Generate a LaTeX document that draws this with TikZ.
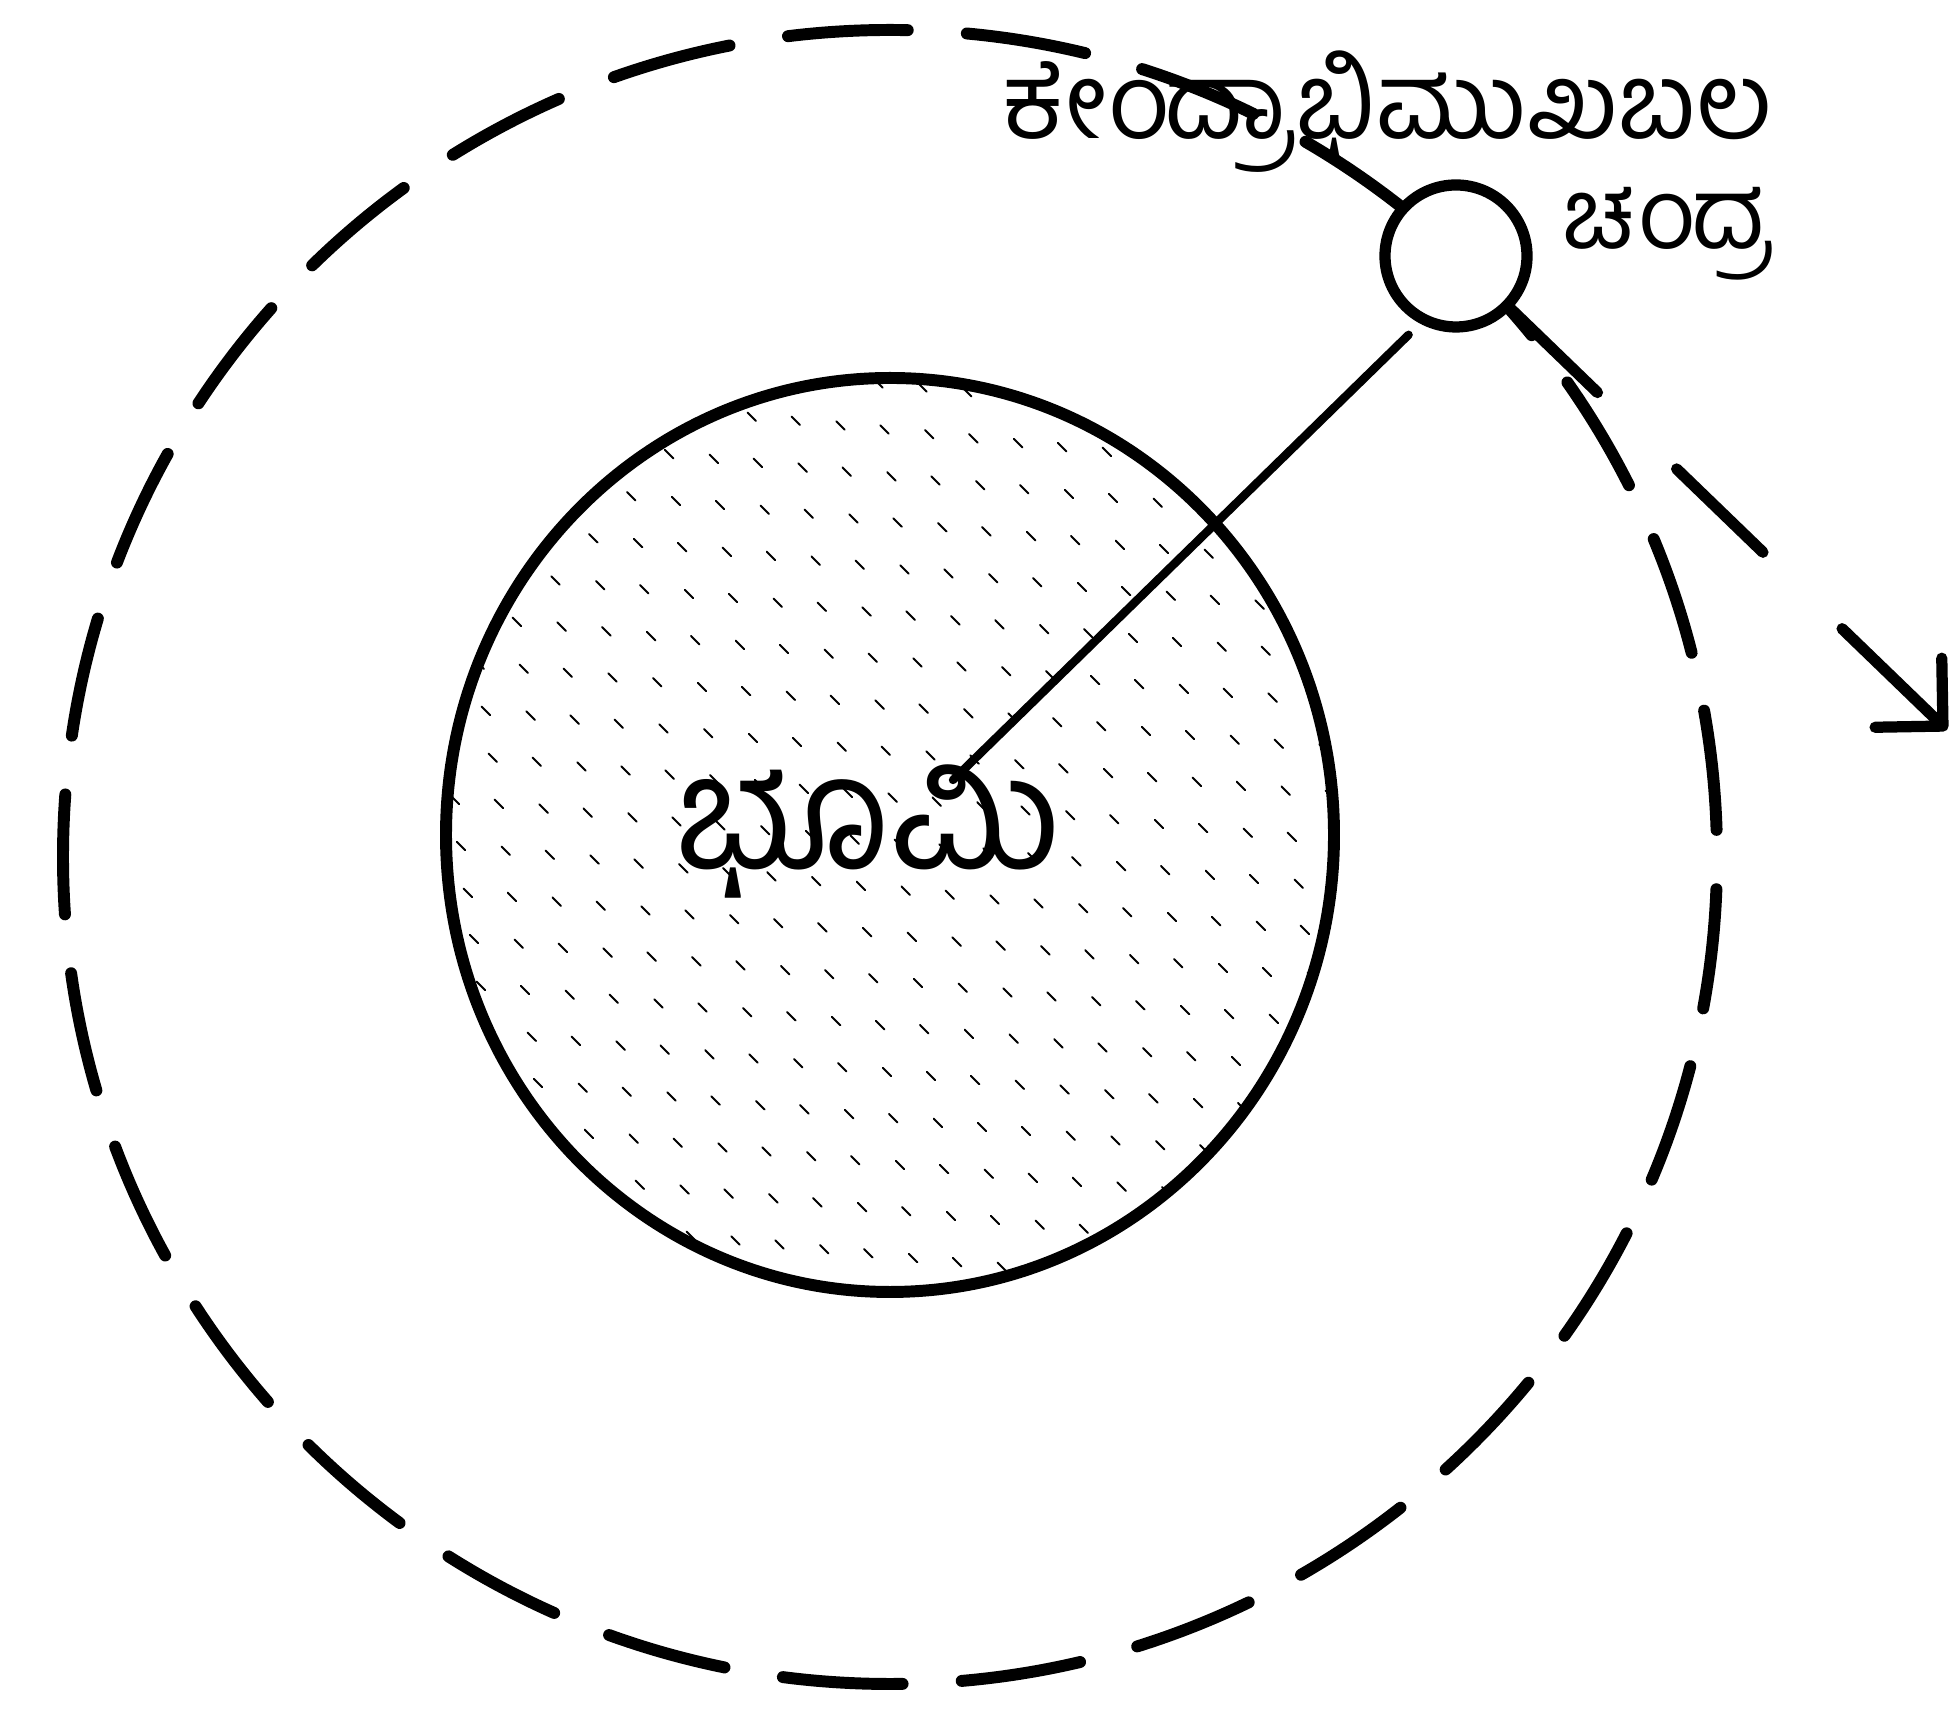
\documentclass[tikz,border=0pt]{standalone}
\usepackage{fontspec}
\newfontfamily\kannada[Script=Kannada]{Hind Mysuru}
\usepackage{tikz}
\usetikzlibrary{calc, arrows.meta, shapes.geometric}

\begin{document}
\begin{tikzpicture}[line cap=round, font=\kannada,
    orbit/.style={line width=3.4pt, dash pattern=on 1.2cm off 0.592cm, dash phase=1.521cm},
    hatch/.style={line width=0.55pt, dash pattern=on 1.2mm off 6mm}]
  \useasboundingbox (0,0) rectangle (19.6,17.1);
  \draw[orbit] (8.9,8.53) circle (8.27);
  \node[draw, ellipse, line width=3.4pt, minimum width=8.88cm, minimum height=9.14cm] (bhumi) at (8.9,8.75) {};
  \begin{scope}
    \clip (bhumi.center) ellipse (4.4 and 4.53);
    \foreach \k in {-16,...,16}
      \draw[hatch, dash phase={mod(\k*37+80,71)/10*1mm}] ($(bhumi.center)+(\k*0.2,\k*0.2)+(-6,6)$) -- ++(12,-12);
  \end{scope}
  \node[font=\kannada\fontsize{45}{50}\selectfont] (bhumilabel) at (8.68,8.78) {ಭೂಮಿ};
  \coordinate (rstart) at (9.53,9.30);
  \coordinate (tip) at (19.47,9.80);
  \node[draw, circle, fill=white, line width=3.2pt, minimum size=1.42cm, inner sep=0pt] (chandra) at (14.56,14.54) {};
  \draw[line width=2.4pt, shorten >=0.16cm] (rstart) -- (chandra.242);
  \draw[line width=3.2pt, dash pattern=on 1.2cm off 1.1cm on 1.2cm off 1.1cm on 3cm,
    -{Straight Barb[length=4.8mm, width=9.6mm, round]}] (chandra) -- (tip);
  \node[anchor=east, font=\kannada\fontsize{30}{34}\selectfont] (kendrabala) at (17.85,15.98) {ಕೇಂದ್ರಾಭಿಮುಖಬಲ};
  \node[anchor=east, font=\kannada\fontsize{28}{32}\selectfont] (chandralabel) at (17.85,14.76) {ಚಂದ್ರ};
\end{tikzpicture}
\end{document}
